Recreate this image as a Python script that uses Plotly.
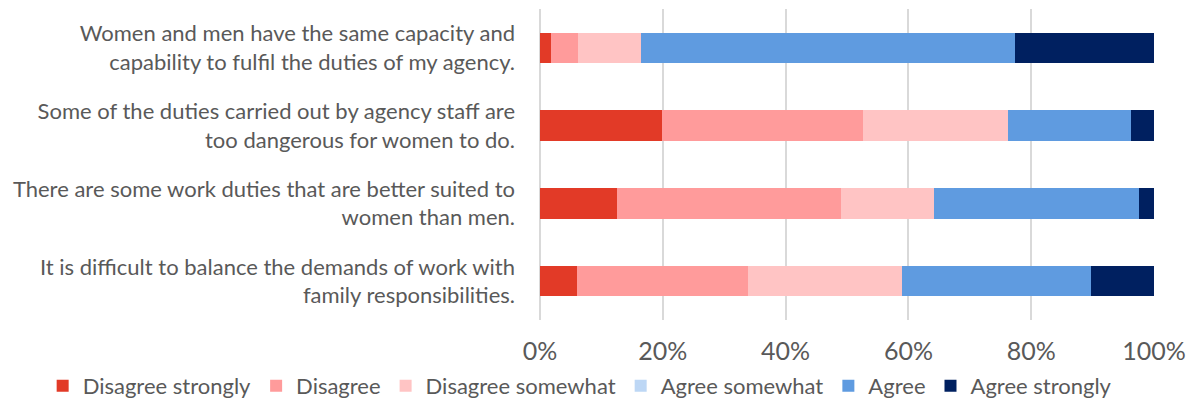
import plotly.graph_objects as go

# Survey statements (top to bottom)
statements = [
    "Women and men have the same capacity and<br>capability to fulfil the duties of my agency.",
    "Some of the duties carried out by agency staff are<br>too dangerous for women to do.",
    "There are some work duties that are better suited to<br>women than men.",
    "It is difficult to balance the demands of work with<br>family responsibilities.",
]

# Share of responses (%) per statement
disagree_strongly = [1.8, 19.9, 12.6, 6.1]
disagree = [4.4, 32.7, 36.4, 27.8]
disagree_somewhat = [10.2, 23.7, 15.1, 25.0]
agree_somewhat = [0.0, 0.0, 0.0, 0.0]
agree = [60.9, 20.0, 33.5, 30.9]
agree_strongly = [22.7, 3.7, 2.4, 10.2]

tick_values = [0, 20, 40, 60, 80, 100]
tick_labels = ["0%", "20%", "40%", "60%", "80%", "100%"]

series = [
    ("Disagree strongly", disagree_strongly, "#E23A27"),
    ("Disagree", disagree, "#FF9B9B"),
    ("Disagree somewhat", disagree_somewhat, "#FFC4C4"),
    ("Agree somewhat", agree_somewhat, "#BDD7F5"),
    ("Agree", agree, "#5F9BE0"),
    ("Agree strongly", agree_strongly, "#002060"),
]

FONT = "Lato"
TEXT = "#595959"

fig = go.Figure()
for name, vals, color in series:
    fig.add_trace(go.Bar(
        y=statements, x=vals, name=name, orientation="h",
        marker=dict(color=color, line=dict(width=0)),
        hoverinfo="name+x",
    ))

fig.update_layout(
    barmode="stack",
    bargap=0.61,
    width=1192, height=400,
    margin=dict(l=540, r=38, t=9, b=80, autoexpand=False),
    paper_bgcolor="white", plot_bgcolor="white",
    font=dict(family=FONT, size=22, color=TEXT),
    xaxis=dict(
        range=[0, 100], tickvals=tick_values, ticktext=tick_labels,
        showgrid=True, gridcolor="#D9D9D9", gridwidth=1.5,
        zeroline=True, zerolinecolor="#D9D9D9", zerolinewidth=1.5,
        showline=False, ticks="", ticklabelstandoff=14,
        tickfont=dict(family=FONT, size=25, color=TEXT),
        fixedrange=True,
    ),
    yaxis=dict(
        autorange="reversed", showgrid=False, showline=False,
        ticks="", ticklabelstandoff=24,
        tickfont=dict(family=FONT, size=22, color=TEXT),
        fixedrange=True,
    ),
    legend=dict(
        orientation="h",
        x=-0.81, xanchor="left", y=-0.212, yanchor="middle",
        font=dict(family=FONT, size=22, color=TEXT),
        traceorder="normal", itemclick=False, itemdoubleclick=False,
        itemwidth=30,
    ),
    showlegend=True,
)

fig.write_html("out.html")
